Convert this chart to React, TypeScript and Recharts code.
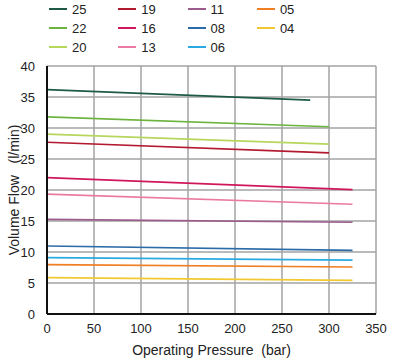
import React from "react";
import { LineChart, Line, XAxis, YAxis, CartesianGrid, Label } from "recharts";

const seriesNames = ["25", "22", "20", "19", "16", "13", "11", "08", "06", "05", "04"];
const seriesColors = ["#1d5a47", "#6cb43f", "#b7d65c", "#b3192f", "#d0175b", "#ea7aa3", "#9b5b8c", "#2b6ba8", "#2ba9e1", "#f07e22", "#f2c832"];
const startFlow = [36.2, 31.8, 29.0, 27.7, 22.0, 19.35, 15.27, 10.97, 9.08, 7.95, 5.86];
const endFlow = [34.5, 30.2, 27.4, 26.0, 20.05, 17.7, 14.8, 10.27, 8.7, 7.58, 5.43];
const endPressure = [280, 300, 300, 300, 325, 325, 325, 325, 325, 325, 325];
const xTicks = [0, 50, 100, 150, 200, 250, 300, 350];
const yTicks = [0, 5, 10, 15, 20, 25, 30, 35, 40];
const legendColumns = [["25", "22", "20"], ["19", "16", "13"], ["11", "08", "06"], ["05", "04"]];

const FONT = "'Liberation Sans', Arial, Helvetica, sans-serif";

export default function App() {
  const series = seriesNames.map((name, i) => ({
    name,
    color: seriesColors[i],
    data: [
      { p: 0, q: startFlow[i] },
      { p: endPressure[i], q: endFlow[i] },
    ],
  }));
  const colorOf = (n: string) => seriesColors[seriesNames.indexOf(n)];
  return (
    <div style={{ position: "fixed", left: 0, top: 0, width: 393, height: 359, background: "#fff", fontFamily: FONT }}>
      <div style={{ position: "absolute", left: 0, top: 0, width: 393, height: 60 }}>
        {legendColumns.map((col, ci) =>
          col.map((n, ri) => (
            <div
              key={n}
              style={{
                position: "absolute",
                left: 49 + ci * 69.3,
                top: 9 + ri * 19 - 8,
                height: 16,
                display: "flex",
                alignItems: "center",
                fontSize: 13,
                color: "#222",
              }}
            >
              <span style={{ display: "inline-block", width: 18, height: 2, background: colorOf(n), marginRight: 5 }} />
              <span>{n}</span>
            </div>
          ))
        )}
      </div>
      <div style={{ position: "absolute", left: 0, top: 0 }}>
        <LineChart width={393} height={359} margin={{ top: 66, right: 17, bottom: 0, left: 0 }}>
          <CartesianGrid xAxisId="b" yAxisId="l" stroke="#a3a3a3" strokeWidth={1.5} />
          <XAxis
            xAxisId="b"
            dataKey="p"
            type="number"
            domain={[0, 350]}
            ticks={xTicks}
            height={45}
            tickLine={false}
            axisLine={{ stroke: "#111", strokeWidth: 2 }}
            tick={{ fontSize: 13, fill: "#222", fontFamily: FONT }}
            tickMargin={4}
          >
            <Label value={"Operating Pressure\u00a0\u00a0(bar)"} position="insideBottom" offset={4} style={{ fontSize: 14, fill: "#222", fontFamily: FONT }} />
          </XAxis>
          <XAxis xAxisId="t" orientation="top" type="number" domain={[0, 350]} height={0} tick={false} tickLine={false} axisLine={{ stroke: "#222", strokeWidth: 1.5 }} />
          <YAxis
            yAxisId="l"
            type="number"
            domain={[0, 40]}
            ticks={yTicks}
            width={47}
            tickLine={false}
            axisLine={{ stroke: "#111", strokeWidth: 2 }}
            tick={{ fontSize: 13, fill: "#222", fontFamily: FONT }}
            tickMargin={6}
          >
            <Label value={"Volume Flow\u00a0\u00a0\u00a0(l/min)"} angle={-90} position="insideLeft" offset={14} style={{ fontSize: 14, fill: "#222", fontFamily: FONT, textAnchor: "middle" }} />
          </YAxis>
          <YAxis yAxisId="r" orientation="right" type="number" domain={[0, 40]} width={0} tick={false} tickLine={false} axisLine={{ stroke: "#222", strokeWidth: 1.5 }} />
          {series.map((s) => (
            <Line
              key={s.name}
              xAxisId="b"
              yAxisId="l"
              data={s.data}
              dataKey="q"
              name={s.name}
              stroke={s.color}
              strokeWidth={1.7}
              dot={false}
              type="linear"
              isAnimationActive={false}
            />
          ))}
        </LineChart>
      </div>
    </div>
  );
}
